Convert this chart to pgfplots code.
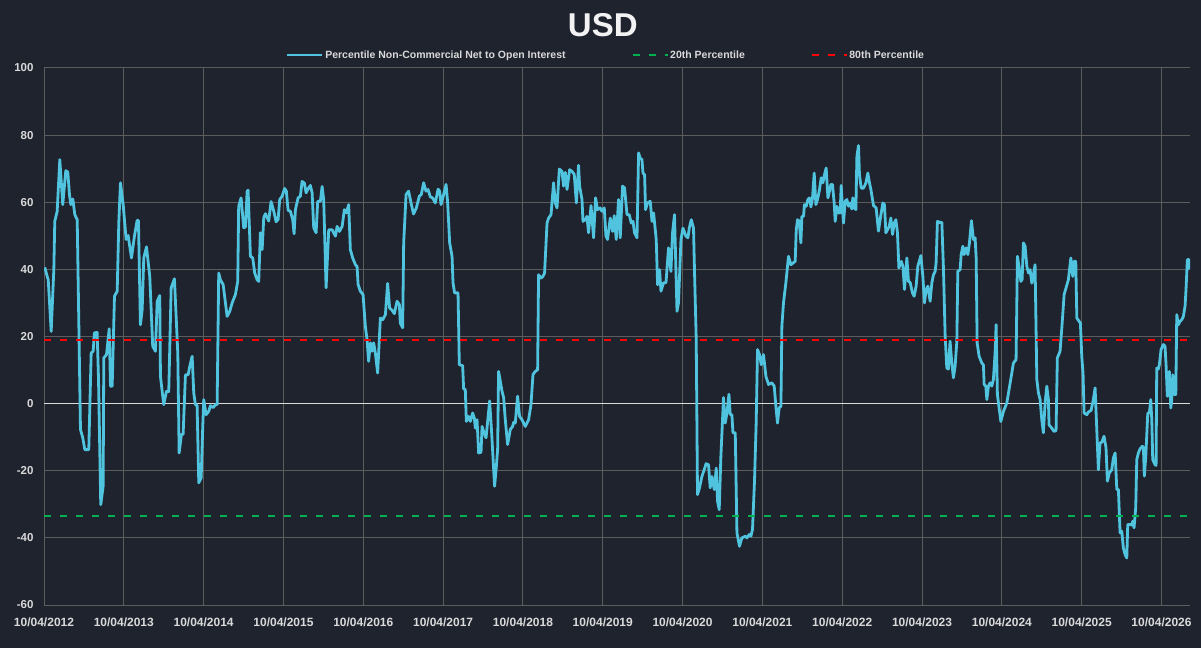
\documentclass[border=0pt]{standalone}
\usepackage{fontspec}
\setmainfont{Liberation Sans}
\usepackage{pgfplots}
\pgfplotsset{compat=1.18}
\definecolor{bgc}{RGB}{31,35,46}
\definecolor{gridc}{RGB}{92,92,92}
\definecolor{linec}{RGB}{80,196,222}
\definecolor{tickc}{RGB}{217,217,217}
\definecolor{titlec}{RGB}{242,242,242}
\definecolor{redc}{RGB}{255,0,0}
\definecolor{greenc}{RGB}{0,176,80}
\begin{document}
\begin{tikzpicture}
\fill[bgc] (0,0) rectangle (1201bp,648bp);
\begin{axis}[
  at={(44bp,43bp)}, anchor=south west,
  width=1146bp, height=537bp, scale only axis,
  xmin=2012, xmax=2026.357, ymin=-60, ymax=100,
  xtick={2012,2013,...,2026},
  xticklabels={10/04/2012,10/04/2013,10/04/2014,10/04/2015,10/04/2016,10/04/2017,10/04/2018,10/04/2019,10/04/2020,10/04/2021,10/04/2022,10/04/2023,10/04/2024,10/04/2025,10/04/2026},
  ytick={-60,-40,-20,0,20,40,60,80,100},
  yticklabels={-60,-40,-20,0,20,40,60,80,100},
  grid=major,
  major grid style={draw=gridc, line width=1bp},
  axis line style={draw=none},
  major tick length=0pt,
  xticklabel style={font=\fontsize{12bp}{14bp}\selectfont\bfseries, text=tickc, yshift=-9bp},
  yticklabel style={font=\fontsize{11.5bp}{14bp}\selectfont\bfseries, text=tickc, xshift=-7bp},
  legend columns=3,
  legend image code/.code={\draw[#1] (0bp,0bp) -- (35bp,0bp);},
  legend style={draw=none, fill=none, text=tickc,
    font=\fontsize{10.5bp}{12bp}\selectfont\bfseries,
    at={(0.4902,1.0242)}, anchor=center, inner sep=0pt,
    nodes={inner sep=1.5bp},
    /tikz/every even column/.append style={column sep=64.5bp}},
]
\addplot[draw=tickc, line width=1.3bp, forget plot] coordinates {(2012,0) (2026.357,0)};
\addplot[color=linec, line width=2.8bp, line join=round] coordinates {
(2012.010,40.6) (2012.040,37.9) (2012.053,36.9) (2012.090,21.5) (2012.123,39.9) (2012.135,54.3) (2012.165,57.3) (2012.198,72.7) (2012.235,59.3) (2012.273,69.4) (2012.298,69.0) (2012.319,62.3) (2012.336,59.3) (2012.361,61.0) (2012.386,56.3) (2012.416,54.8) (2012.457,-7.7) (2012.486,-10.2) (2012.511,-13.7) (2012.561,-13.7) (2012.591,15.1) (2012.616,15.6) (2012.632,21.1) (2012.666,21.2) (2012.683,7.2) (2012.711,-30.1) (2012.741,-24.6) (2012.749,13.6) (2012.783,14.6) (2012.817,22.3) (2012.833,5.2) (2012.854,5.2) (2012.883,32.0) (2012.917,33.5) (2012.937,53.8) (2012.958,65.8) (2012.992,59.3)
(2013.029,48.9) (2013.054,50.1) (2013.096,43.4) (2013.133,49.9) (2013.167,54.6) (2013.183,54.6) (2013.208,23.5) (2013.230,28.0) (2013.250,43.4) (2013.284,46.7) (2013.325,37.9) (2013.362,17.1) (2013.396,15.6) (2013.418,30.5) (2013.450,32.2) (2013.459,8.1) (2013.500,-0.3) (2013.534,3.7) (2013.563,3.6) (2013.593,34.5) (2013.634,37.2) (2013.676,15.1) (2013.693,-14.7) (2013.722,-9.2) (2013.743,-9.1) (2013.772,8.6) (2013.806,8.6) (2013.826,11.1) (2013.856,14.1) (2013.876,3.2) (2013.897,-0.3) (2013.918,-0.5) (2013.939,-23.6) (2013.969,-22.1) (2013.989,-6.8)
(2014.001,1.2) (2014.031,-3.3) (2014.064,-2.3) (2014.085,-0.6) (2014.119,-1.2) (2014.148,-0.3) (2014.169,-0.3) (2014.189,38.9) (2014.210,36.9) (2014.244,35.5) (2014.260,32.5) (2014.294,26.0) (2014.327,27.5) (2014.357,30.0) (2014.398,32.5) (2014.427,36.4) (2014.439,58.8) (2014.469,61.3) (2014.502,52.4) (2014.523,52.6) (2014.545,63.3) (2014.557,63.6) (2014.586,43.9) (2014.615,43.4) (2014.640,38.9) (2014.670,36.9) (2014.690,36.4) (2014.711,50.9) (2014.733,45.9) (2014.753,55.4) (2014.774,56.6) (2014.815,54.4) (2014.845,60.2) (2014.878,57.4) (2014.908,54.2) (2014.933,54.9) (2014.953,60.8) (2014.983,61.8)
(2015.015,64.1) (2015.036,63.3) (2015.058,57.6) (2015.087,57.3) (2015.116,54.8) (2015.133,50.6) (2015.150,57.8) (2015.183,61.3) (2015.212,61.8) (2015.233,66.2) (2015.262,65.7) (2015.284,62.8) (2015.303,63.8) (2015.337,65.0) (2015.359,62.8) (2015.379,52.4) (2015.409,50.9) (2015.429,60.3) (2015.463,60.3) (2015.484,64.7) (2015.504,60.8) (2015.534,34.5) (2015.567,51.8) (2015.609,51.8) (2015.651,49.9) (2015.672,52.8) (2015.701,51.3) (2015.735,52.8) (2015.763,57.8) (2015.788,56.8) (2015.817,59.3) (2015.838,45.9) (2015.867,43.4) (2015.901,41.4) (2015.922,40.9) (2015.935,35.5) (2015.963,33.5) (2015.997,32.5)
(2016.026,23.0) (2016.047,19.1) (2016.067,12.6) (2016.089,18.1) (2016.110,15.6) (2016.130,18.1) (2016.151,15.1) (2016.180,9.1) (2016.214,25.5) (2016.243,25.0) (2016.277,26.5) (2016.305,35.8) (2016.330,28.5) (2016.361,27.8) (2016.389,26.8) (2016.423,30.5) (2016.452,29.5) (2016.464,24.0) (2016.493,22.6) (2016.506,47.9) (2016.536,62.3) (2016.568,63.3) (2016.598,59.8) (2016.629,56.5) (2016.665,58.3) (2016.702,61.8) (2016.727,62.3) (2016.756,65.8) (2016.786,63.3) (2016.811,63.8) (2016.840,61.6) (2016.868,61.3) (2016.902,59.8) (2016.937,63.9) (2016.957,63.3) (2016.974,59.3)
(2017.007,62.3) (2017.037,65.3) (2017.057,59.8) (2017.082,47.9) (2017.112,43.9) (2017.124,36.0) (2017.144,33.0) (2017.187,33.0) (2017.203,11.6) (2017.245,11.3) (2017.257,4.4) (2017.278,4.2) (2017.291,-5.3) (2017.320,-3.8) (2017.341,-5.3) (2017.370,-2.8) (2017.391,-4.3) (2017.404,-7.3) (2017.425,-4.8) (2017.445,-14.7) (2017.475,-14.5) (2017.488,-6.8) (2017.508,-8.3) (2017.538,-10.2) (2017.558,-5.3) (2017.583,0.8) (2017.608,-8.7) (2017.645,-24.6) (2017.667,-18.7) (2017.683,-13.7) (2017.695,9.6) (2017.738,3.7) (2017.758,1.8) (2017.779,-4.8) (2017.808,-12.2) (2017.842,-7.7) (2017.871,-6.8) (2017.883,-5.6) (2017.904,-5.8) (2017.933,2.2) (2017.958,-3.8) (2017.988,-4.8)
(2018.030,-6.8) (2018.051,-5.8) (2018.071,-4.8) (2018.101,-0.3) (2018.126,8.7) (2018.155,9.6) (2018.184,10.1) (2018.196,38.4) (2018.226,37.4) (2018.251,37.9) (2018.271,38.9) (2018.302,53.8) (2018.322,55.3) (2018.352,56.3) (2018.384,65.8) (2018.406,59.8) (2018.427,58.3) (2018.456,69.9) (2018.489,69.2) (2018.509,64.8) (2018.531,68.9) (2018.552,63.8) (2018.585,69.7) (2018.615,69.2) (2018.643,68.3) (2018.669,59.8) (2018.697,71.0) (2018.710,64.8) (2018.740,60.8) (2018.752,54.3) (2018.781,54.8) (2018.802,55.8) (2018.822,50.9) (2018.853,59.0) (2018.885,49.4) (2018.910,61.3) (2018.935,57.8) (2018.969,58.3) (2018.990,57.3)
(2019.019,58.3) (2019.040,49.9) (2019.060,48.9) (2019.094,55.3) (2019.123,51.3) (2019.144,56.0) (2019.169,48.9) (2019.198,60.8) (2019.219,49.4) (2019.248,64.8) (2019.273,64.3) (2019.304,56.3) (2019.332,56.3) (2019.357,53.8) (2019.379,54.3) (2019.398,50.9) (2019.429,49.4) (2019.449,74.7) (2019.470,73.0) (2019.491,72.8) (2019.504,68.7) (2019.524,68.2) (2019.536,57.8) (2019.561,59.8) (2019.595,60.3) (2019.617,54.3) (2019.637,56.8) (2019.670,48.9) (2019.687,35.4) (2019.712,39.9) (2019.729,33.5) (2019.762,36.0) (2019.792,36.0) (2019.824,46.4) (2019.854,39.4) (2019.874,50.9) (2019.899,56.3) (2019.930,27.5) (2019.949,30.0) (2019.980,48.9)
(2020.005,52.3) (2020.042,49.9) (2020.067,49.4) (2020.084,52.3) (2020.109,54.8) (2020.137,52.3) (2020.150,38.9) (2020.171,19.1) (2020.187,-27.1) (2020.212,-25.1) (2020.242,-21.7) (2020.271,-19.7) (2020.295,-17.9) (2020.325,-18.2) (2020.346,-25.1) (2020.367,-21.7) (2020.397,-25.6) (2020.422,-19.2) (2020.438,-29.1) (2020.459,-31.6) (2020.480,-15.7) (2020.513,1.8) (2020.534,-5.8) (2020.556,-2.8) (2020.581,2.8) (2020.597,-3.3) (2020.618,-3.3) (2020.631,-8.7) (2020.660,-8.7) (2020.681,-38.5) (2020.713,-42.5) (2020.743,-40.0) (2020.785,-39.5) (2020.806,-40.0) (2020.835,-39.0) (2020.856,-39.5) (2020.876,-37.5) (2020.901,-23.1) (2020.922,-5.8) (2020.939,16.1) (2020.964,14.6) (2020.985,11.6)
(2021.014,14.6) (2021.044,8.1) (2021.077,5.7) (2021.119,6.2) (2021.148,5.2) (2021.169,-0.8) (2021.189,-5.8) (2021.210,-1.3) (2021.232,-0.8) (2021.244,23.1) (2021.264,30.0) (2021.294,36.0) (2021.327,43.9) (2021.357,41.4) (2021.390,42.0) (2021.411,42.4) (2021.424,51.8) (2021.440,54.8) (2021.461,54.4) (2021.482,47.9) (2021.495,55.8) (2021.515,55.8) (2021.527,59.3) (2021.549,58.8) (2021.570,60.8) (2021.590,61.3) (2021.608,58.6) (2021.628,61.3) (2021.649,68.7) (2021.670,59.3) (2021.690,60.8) (2021.712,63.3) (2021.737,67.3) (2021.758,65.8) (2021.778,68.2) (2021.799,70.2) (2021.821,61.3) (2021.840,63.3) (2021.858,65.3) (2021.878,65.3) (2021.899,59.8) (2021.912,54.3) (2021.933,58.8) (2021.953,56.8) (2021.974,56.8) (2021.987,65.0)
(2022.003,58.3) (2022.016,53.8) (2022.037,60.3) (2022.058,60.8) (2022.079,58.8) (2022.100,59.8) (2022.120,58.0) (2022.133,61.3) (2022.153,58.3) (2022.171,57.8) (2022.184,73.7) (2022.204,76.9) (2022.216,68.2) (2022.238,64.2) (2022.266,64.2) (2022.296,65.7) (2022.321,68.7) (2022.338,66.2) (2022.359,63.8) (2022.392,59.0) (2022.425,58.3) (2022.454,51.4) (2022.475,54.8) (2022.509,59.8) (2022.529,59.3) (2022.547,50.9) (2022.567,51.8) (2022.588,52.8) (2022.609,55.3) (2022.630,50.4) (2022.651,53.8) (2022.672,54.8) (2022.692,50.9) (2022.710,40.4) (2022.739,42.4) (2022.760,40.9) (2022.780,34.0) (2022.810,43.4) (2022.830,36.4) (2022.851,36.1) (2022.880,33.0) (2022.901,32.0) (2022.926,35.0) (2022.947,40.9) (2022.985,44.1)
(2023.010,38.0) (2023.030,30.0) (2023.051,34.0) (2023.073,35.0) (2023.101,30.5) (2023.123,36.0) (2023.143,38.4) (2023.164,39.4) (2023.176,41.9) (2023.193,54.3) (2023.217,54.0) (2023.248,54.0) (2023.268,40.4) (2023.289,20.5) (2023.310,10.6) (2023.330,10.3) (2023.351,18.6) (2023.373,12.1) (2023.393,7.7) (2023.414,11.1) (2023.436,18.6) (2023.448,39.4) (2023.477,39.9) (2023.490,44.4) (2023.511,46.9) (2023.527,44.4) (2023.552,46.4) (2023.574,44.4) (2023.594,47.9) (2023.619,54.5) (2023.644,48.9) (2023.665,49.4) (2023.678,43.4) (2023.690,18.1) (2023.715,14.1) (2023.749,12.1) (2023.769,11.5) (2023.778,5.7) (2023.799,5.2) (2023.812,1.2) (2023.832,5.2) (2023.853,6.2) (2023.874,5.2) (2023.894,7.2) (2023.915,15.1) (2023.928,23.5) (2023.944,2.7) (2023.987,-5.3)
(2024.020,-2.3) (2024.062,0.2) (2024.104,6.2) (2024.145,12.1) (2024.178,13.1) (2024.195,43.9) (2024.220,39.9) (2024.238,36.4) (2024.254,37.0) (2024.270,47.9) (2024.291,46.9) (2024.313,40.9) (2024.333,38.9) (2024.354,39.9) (2024.375,35.9) (2024.395,38.4) (2024.416,41.4) (2024.438,7.2) (2024.458,3.2) (2024.479,1.2) (2024.500,-4.8) (2024.520,-8.7) (2024.542,0.2) (2024.563,5.2) (2024.583,1.2) (2024.591,-6.3) (2024.625,-7.3) (2024.654,-8.3) (2024.679,-8.0) (2024.695,13.6) (2024.729,15.6) (2024.751,22.5) (2024.780,32.5) (2024.804,34.5) (2024.833,36.9) (2024.864,43.4) (2024.888,37.9) (2024.905,42.4) (2024.926,42.4) (2024.939,25.5) (2024.968,24.5) (2024.984,24.0)
(2025.001,14.0) (2025.017,9.0) (2025.030,-2.8) (2025.064,-3.3) (2025.084,-2.5) (2025.118,-2.0) (2025.146,1.2) (2025.168,4.7) (2025.189,-7.7) (2025.209,-19.7) (2025.230,-11.7) (2025.252,-11.5) (2025.280,-9.7) (2025.305,-13.2) (2025.322,-23.1) (2025.347,-20.6) (2025.377,-19.7) (2025.397,-16.2) (2025.419,-14.7) (2025.440,-25.6) (2025.460,-25.6) (2025.472,-33.1) (2025.481,-38.5) (2025.502,-38.0) (2025.522,-43.0) (2025.544,-45.0) (2025.565,-46.0) (2025.577,-36.0) (2025.606,-36.0) (2025.628,-36.2) (2025.640,-35.0) (2025.656,-37.0) (2025.677,-31.0) (2025.690,-16.7) (2025.710,-14.7) (2025.731,-13.5) (2025.760,-12.7) (2025.773,-13.0) (2025.785,-21.6) (2025.803,-15.7) (2025.828,-2.8) (2025.848,-2.8) (2025.865,1.2) (2025.878,-4.8) (2025.890,-16.7) (2025.919,-18.2) (2025.932,-18.4) (2025.940,10.6) (2025.960,10.3) (2025.973,11.6) (2025.994,16.1)
(2026.023,17.6) (2026.044,17.1) (2026.057,11.6) (2026.073,2.2) (2026.098,9.6) (2026.116,-1.3) (2026.128,1.2) (2026.141,8.6) (2026.161,2.7) (2026.179,2.7) (2026.191,26.5) (2026.211,23.5) (2026.232,24.5) (2026.254,25.0) (2026.274,26.0) (2026.295,29.0) (2026.307,34.0) (2026.324,42.9) (2026.345,42.9) (2026.357,40.0)
};
\addlegendentry{Percentile Non-Commercial Net to Open Interest}
\addplot[color=greenc, line width=2bp, dash pattern=on 7bp off 9bp] coordinates {(2012,-33.6) (2026.357,-33.6)};
\addlegendentry{20th Percentile}
\addplot[color=redc, line width=2bp, dash pattern=on 7bp off 9bp] coordinates {(2012,19.1) (2026.357,19.1)};
\addlegendentry{80th Percentile}
\end{axis}
\node[anchor=base, text=titlec, font=\fontsize{33bp}{36bp}\selectfont\bfseries] at (602.8bp,611.3bp) {USD};
\pgfresetboundingbox
\useasboundingbox (0,0) rectangle (1201bp,648bp);
\end{tikzpicture}
\end{document}
